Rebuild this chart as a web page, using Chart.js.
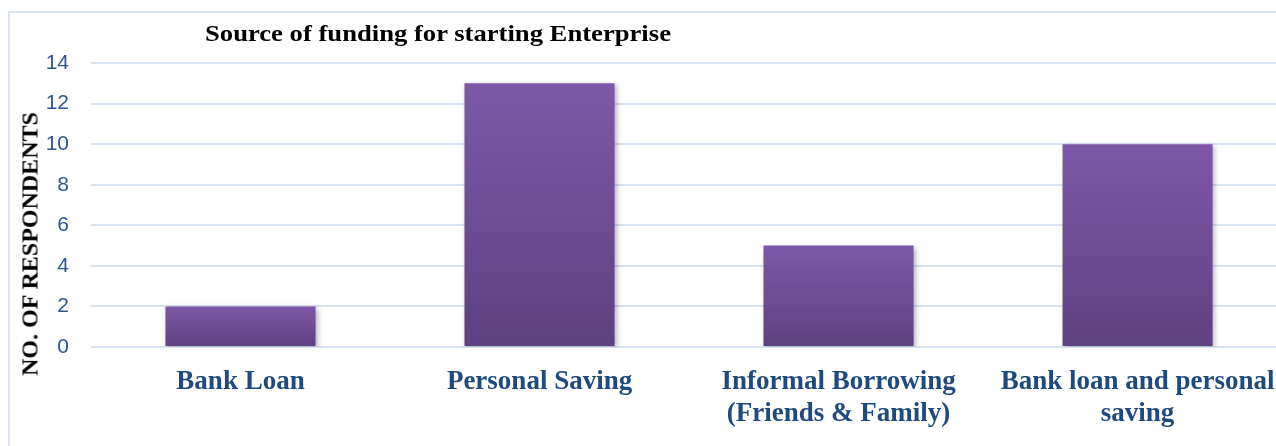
<!DOCTYPE html>
<html>
<head>
<meta charset="utf-8">
<script src="https://cdn.jsdelivr.net/npm/chart.js@4.4.1/dist/chart.umd.min.js"></script>
<style>
  html, body { margin: 0; padding: 0; background: #fff; overflow: hidden; width: 1276px; height: 446px; }
  #frame { position: absolute; left: 8px; top: 11px; width: 1400px; height: 500px; border: 2px solid #dce6f2; box-sizing: border-box; }
  #wrap { position: absolute; left: 0; top: 0; width: 1295px; height: 446px; }
  #title { position: absolute; left: 205px; top: 20px; font: bold 24px "Liberation Serif", serif; color: #000; white-space: nowrap; transform: scaleX(1.11); transform-origin: left top; }
  #ytitle { position: absolute; left: 30px; top: 244px; transform: translate(-50%, -50%) rotate(-90deg); font: bold 24px "Liberation Serif", serif; color: #000; white-space: nowrap; }
</style>
</head>
<body>
<div id="frame"></div>
<div id="wrap"><canvas id="chart"></canvas></div>
<div id="title">Source of funding for starting Enterprise</div>
<div id="ytitle">NO. OF RESPONDENTS</div>
<script>
const categories = [
  'Bank Loan',
  'Personal Saving',
  ['Informal Borrowing', '(Friends & Family)'],
  ['Bank loan and personal', 'saving']
];
const respondents = [2, 13, 5, 10];
const yTicks = [0, 2, 4, 6, 8, 10, 12, 14];

// each bar gets its own top-to-bottom gradient, like the Office fill
function barFill(c) {
  const chart = c.chart;
  const y = chart.scales.y;
  if (!y || c.raw === undefined) return '#6e4d96';
  const top = y.getPixelForValue(c.raw);
  const bottom = y.getPixelForValue(0);
  if (!isFinite(top) || !isFinite(bottom) || top === bottom) return '#6e4d96';
  const g = chart.ctx.createLinearGradient(0, top, 0, bottom);
  g.addColorStop(0, '#7e58a7');
  g.addColorStop(1, '#5e4180');
  return g;
}

const barShadow = {
  id: 'barShadow',
  beforeDatasetsDraw(chart) {
    const ctx = chart.ctx;
    ctx.save();
    ctx.shadowColor = 'rgba(0,0,0,0.28)';
    ctx.shadowBlur = 5;
    ctx.shadowOffsetX = 2;
    ctx.shadowOffsetY = 2;
  },
  afterDatasetsDraw(chart) {
    chart.ctx.restore();
  }
};

new Chart(document.getElementById('chart'), {
  type: 'bar',
  data: {
    labels: categories,
    datasets: [{
      data: respondents,
      backgroundColor: barFill,
      borderWidth: 0,
      categoryPercentage: 1,
      barPercentage: 0.502
    }]
  },
  options: {
    responsive: true,
    maintainAspectRatio: false,
    animation: false,
    events: [],
    layout: { padding: { top: 63, right: 4, left: 0, bottom: 0 } },
    plugins: { legend: { display: false }, tooltip: { enabled: false } },
    scales: {
      x: {
        grid: { display: false, drawTicks: false },
        border: { display: false },
        ticks: {
          color: '#1f4a7e',
          font: { family: 'Liberation Serif', size: 27, weight: 'bold', lineHeight: 1.15 },
          padding: 20,
          maxRotation: 0,
          autoSkip: false
        },
        afterFit(s) { s.height = 99; }
      },
      y: {
        min: 0,
        max: 14,
        afterBuildTicks(s) { s.ticks = yTicks.map(v => ({ value: v })); },
        grid: { color: '#d9e4f2', lineWidth: 2, drawTicks: false },
        border: { display: false },
        ticks: {
          color: '#2f5590',
          font: { family: 'Liberation Sans', size: 21 },
          padding: 22
        },
        afterFit(s) { s.width = 91; }
      }
    }
  },
  plugins: [barShadow]
});
</script>
</body>
</html>
